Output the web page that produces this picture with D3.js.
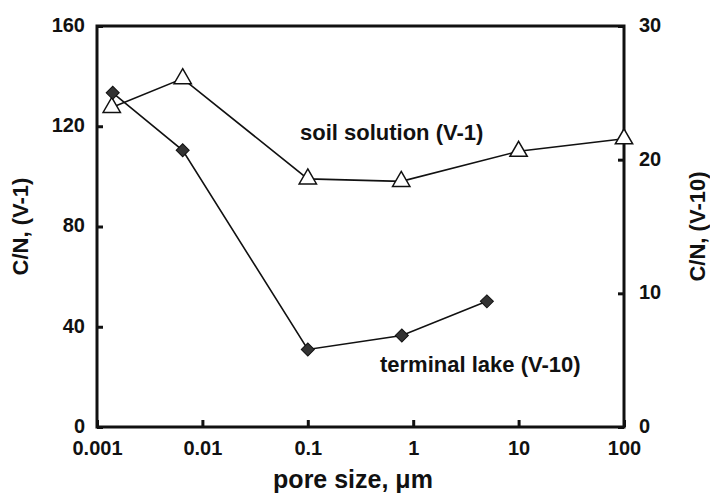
<!DOCTYPE html>
<html>
<head>
<meta charset="utf-8">
<script src="https://cdn.jsdelivr.net/npm/d3@7"></script>
<style>
html,body{margin:0;padding:0;background:#fff;}
svg text{font-family:"Liberation Sans",Arial,sans-serif;font-weight:bold;fill:#111;}
</style>
</head>
<body>
<svg id="chart" width="710" height="493"></svg>
<script>
// Data
const soilPore = [0.00138, 0.0065, 0.1, 0.77, 10, 100];
const soilCN = [127.5, 139, 99, 98, 110, 115];      // left axis (V-1)
const lakePore = [0.00141, 0.0065, 0.1, 0.78, 5];
const lakeCN = [25.0, 20.7, 5.8, 6.85, 9.4];        // right axis (V-10)
const xTicks = [0.001, 0.01, 0.1, 1, 10, 100];
const xTickLabels = ["0.001", "0.01", "0.1", "1", "10", "100"];
const yLeftTicks = [0, 40, 80, 120, 160];
const yRightTicks = [0, 10, 20, 30];

const svg = d3.select("#chart");
const m = {left: 97, right: 86, top: 26, bottom: 66};
const W = 710, H = 493;
const x = d3.scaleLog().domain([0.001, 100]).range([m.left, W - m.right]);
const yL = d3.scaleLinear().domain([0, 160]).range([H - m.bottom, m.top]);
const yR = d3.scaleLinear().domain([0, 30]).range([H - m.bottom, m.top]);

// Axes (ticks inside)
const gx = svg.append("g").attr("transform", `translate(0,${H - m.bottom})`)
  .call(d3.axisBottom(x).tickValues(xTicks).tickSize(-7).tickPadding(14)
    .tickFormat((d, i) => xTickLabels[i]));
const gl = svg.append("g").attr("transform", `translate(${m.left},0)`)
  .call(d3.axisLeft(yL).tickValues(yLeftTicks).tickSize(-6).tickPadding(12));
const gr = svg.append("g").attr("transform", `translate(${W - m.right},0)`)
  .call(d3.axisRight(yR).tickValues(yRightTicks).tickSize(-6).tickPadding(15));
[gx, gl, gr].forEach(g => {
  g.select(".domain").remove();
  g.selectAll(".tick line").attr("stroke", "#111").attr("stroke-width", 3);
  g.selectAll(".tick text").attr("font-size", 20).attr("fill", "#111");
});
gl.selectAll(".tick text").attr("dy", "0.27em");
gr.selectAll(".tick text").attr("dy", "0.27em");

// frame
svg.append("rect").attr("x", m.left).attr("y", m.top)
  .attr("width", W - m.right - m.left).attr("height", H - m.bottom - m.top)
  .attr("fill", "none").attr("stroke", "#111").attr("stroke-width", 3);

const soil = soilPore.map((p, i) => [p, soilCN[i]]);
const lake = lakePore.map((p, i) => [p, lakeCN[i]]);
svg.append("path").datum(soil)
  .attr("d", d3.line().x(d => x(d[0])).y(d => yL(d[1])))
  .attr("fill", "none").attr("stroke", "#111").attr("stroke-width", 1.6);
svg.append("path").datum(lake)
  .attr("d", d3.line().x(d => x(d[0])).y(d => yR(d[1])))
  .attr("fill", "none").attr("stroke", "#111").attr("stroke-width", 1.6);

svg.selectAll(".tri").data(soil).enter().append("path")
  .attr("transform", d => `translate(${x(d[0])},${yL(d[1])})`)
  .attr("d", d3.symbol(d3.symbolTriangle, 130))
  .attr("fill", "#fff").attr("stroke", "#111").attr("stroke-width", 1.5);
svg.selectAll(".dia").data(lake).enter().append("path")
  .attr("transform", d => `translate(${x(d[0])},${yR(d[1])}) rotate(45)`)
  .attr("d", d3.symbol(d3.symbolSquare, 85))
  .attr("fill", "#333").attr("stroke", "#111").attr("stroke-width", 1);

// annotations
svg.append("text").attr("x", 300).attr("y", 140).attr("font-size", 22).text("soil solution (V-1)");
svg.append("text").attr("x", 380).attr("y", 372).attr("font-size", 22).text("terminal lake (V-10)");

// axis titles
svg.append("text").attr("x", 353).attr("y", 488)
  .attr("text-anchor", "middle").attr("font-size", 25).text("pore size, μm");
svg.append("text").attr("transform", `translate(28,${(m.top + H - m.bottom) / 2}) rotate(-90)`)
  .attr("text-anchor", "middle").attr("font-size", 22).text("C/N, (V-1)");
svg.append("text").attr("transform", `translate(705,${(m.top + H - m.bottom) / 2}) rotate(-90)`)
  .attr("text-anchor", "middle").attr("font-size", 22).text("C/N, (V-10)");
</script>
</body>
</html>
